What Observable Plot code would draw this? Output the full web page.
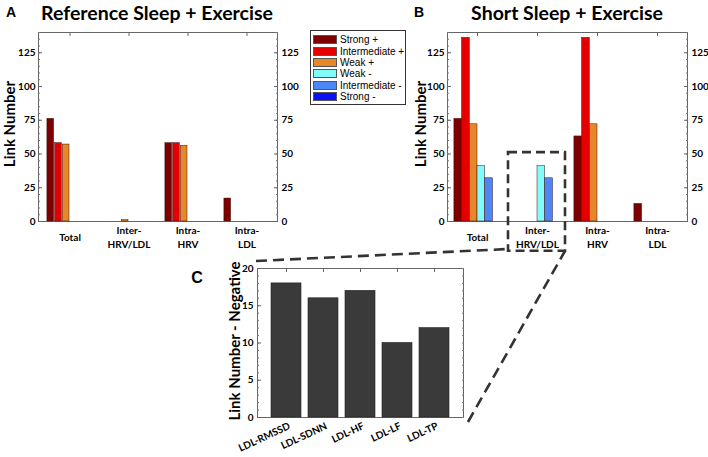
<!DOCTYPE html>
<html><head><meta charset="utf-8">
<script src="https://cdn.jsdelivr.net/npm/d3@7"></script>
<script src="https://cdn.jsdelivr.net/npm/@observablehq/plot@0.6"></script>
<style>
body{margin:0;background:#fff;}
#wrap{position:relative;width:708px;height:457px;overflow:hidden;font-family:Lato,"Open Sans",sans-serif;}
.pl{position:absolute;}
.title{position:absolute;font-weight:bold;font-size:19.5px;white-space:nowrap;transform:translate(-50%,-50%);color:#000;}
.tag{position:absolute;font-weight:bold;font-size:14px;font-family:"Liberation Sans",Arial,sans-serif;transform:translate(-50%,-50%);}
.ytitle{position:absolute;font-weight:bold;font-size:15px;white-space:nowrap;font-family:Lato,sans-serif;transform:translate(-50%,-50%) rotate(-90deg);}
#legend{position:absolute;left:310px;top:30px;width:96px;height:75px;border:1px solid #333;background:#fff;box-sizing:border-box;padding:3px 0 0 2px;font-family:"Liberation Sans",Arial,sans-serif;font-size:10px;}
#legend .row{display:flex;align-items:center;height:11.4px;white-space:nowrap;}
#legend .sw{width:24px;height:9px;border:1px solid #555;box-sizing:border-box;margin-right:3px;flex:none;}
</style></head>
<body>
<div id="wrap">
  <div class="title" style="left:157px;top:12px">Reference Sleep + Exercise</div>
  <div class="title" style="left:567px;top:12px">Short Sleep + Exercise</div>
  <div class="tag" style="left:11px;top:12px">A</div>
  <div class="tag" style="left:419px;top:12px">B</div>
  <div class="tag" style="left:197px;top:278px;font-size:16px">C</div>
  <div class="ytitle" style="left:9px;top:124px">Link Number</div>
  <div class="ytitle" style="left:420px;top:124px">Link Number</div>
  <div class="ytitle" style="left:234px;top:341px">Link Number - Negative</div>
  <div id="legend"></div>
</div>
<script>
// ---------- data ----------
const groups = ["Total", "Inter-\nHRV/LDL", "Intra-\nHRV", "Intra-\nLDL"];
const series = ["Strong +", "Intermediate +", "Weak +", "Weak -", "Intermediate -", "Strong -"];
const colors = ["#7d0000", "#e40000", "#e8872a", "#84fbfb", "#4d86f6", "#0a10f5"];
// values per series, in the order of groups
const refStrongPos = [76, 0, 58, 17];
const refInterPos  = [58, 0, 58, 0];
const refWeakPos   = [57, 1, 56, 0];
const refWeakNeg   = [0, 0, 0, 0];
const refInterNeg  = [0, 0, 0, 0];
const refStrongNeg = [0, 0, 0, 0];
const shortStrongPos = [76, 0, 63, 13];
const shortInterPos  = [136, 0, 136, 0];
const shortWeakPos   = [72, 0, 72, 0];
const shortWeakNeg   = [41, 41, 0, 0];
const shortInterNeg  = [32, 32, 0, 0];
const shortStrongNeg = [0, 0, 0, 0];
const yTicks = [0, 25, 50, 75, 100, 125];
const negLinks = ["LDL-RMSSD", "LDL-SDNN", "LDL-HF", "LDL-LF", "LDL-TP"];
const negValues = [18, 16, 17, 10, 12];
const negTicks = [0, 5, 10, 15, 20];

const refSets = [refStrongPos, refInterPos, refWeakPos, refWeakNeg, refInterNeg, refStrongNeg];
const shortSets = [shortStrongPos, shortInterPos, shortWeakPos, shortWeakNeg, shortInterNeg, shortStrongNeg];

function rows(sets) {
  const out = [];
  sets.forEach((vals, si) => vals.forEach((v, gi) => {
    if (v > 0) out.push({group: groups[gi], series: series[si], value: v});
  }));
  return out;
}

const tickFont = 'Lato, "Open Sans", sans-serif';
const fs = 10;
const bw = 7.7;          // bar width
const band = 60;         // group band width
const noText = () => "";

function groupedChart(data, opts) {
  const inset = (band - bw) / 2;
  const marks = [
    Plot.frame({stroke: "#666", strokeWidth: 1}),
    // minor & major inward ticks
    Plot.axisY(d3.range(0, 141, 5), {anchor: "left", label: null, tickSize: -2, tickFormat: noText, stroke: "#777"}),
    Plot.axisY(d3.range(0, 141, 5), {anchor: "right", label: null, tickSize: -2, tickFormat: noText, stroke: "#777"}),
    Plot.axisY(yTicks, {anchor: "left", label: null, tickSize: -4, tickFormat: noText, stroke: "#666"}),
    Plot.axisY(yTicks, {anchor: "right", label: null, tickSize: -4, tickFormat: noText, stroke: "#666"}),
    Plot.axisX({anchor: "top", label: null, tickSize: -3, tickFormat: noText, stroke: "#666"}),
    Plot.axisY(yTicks, {anchor: "left", label: null, tickSize: 0, tickPadding: 3, fontWeight: "bold", fontFamily: tickFont, fontSize: fs}),
    Plot.axisY(yTicks, {anchor: "right", label: null, tickSize: 0, tickPadding: 4, fontWeight: "bold", fontFamily: tickFont, fontSize: fs}),
    Plot.axisX({anchor: "bottom", label: null, tickSize: 0, tickPadding: 15, lineAnchor: "middle", lineHeight: 1.4, fontWeight: "bold", fontFamily: tickFont, fontSize: fs}),
    ...series.map((s, i) => Plot.barY(data.filter(d => d.series === s), {
      x: "group", y: "value", fill: colors[i], stroke: "#3b1010", strokeWidth: 0.5,
      insetLeft: inset + (i - 2.5) * bw, insetRight: inset - (i - 2.5) * bw
    })),
    ...(opts.extra || [])
  ];
  return Plot.plot({
    width: opts.width, height: 252,
    marginLeft: opts.ml, marginRight: opts.mr, marginTop: 32, marginBottom: 31,
    x: {domain: groups, padding: 0, axis: null},
    y: {domain: [0, 140], axis: null},
    style: {fontFamily: tickFont, fontSize: fs + "px", color: "#000", background: "transparent", overflow: "visible"},
    marks
  });
}

const wrap = document.getElementById("wrap");

const chartA = groupedChart(rows(refSets), {width: 300, ml: 38, mr: 23});
chartA.classList.add("pl"); chartA.style.left = "0px"; chartA.style.top = "0px";
wrap.appendChild(chartA);

const boxGroup = [{group: groups[1]}];
const chartB = groupedChart(rows(shortSets), {width: 318, ml: 57, mr: 21, extra: [
  Plot.barY(boxGroup, {x: "group", y1: () => -22, y2: () => 51, fill: "none", stroke: "#333", strokeWidth: 2.6, strokeDasharray: "9,5", insetLeft: 1, insetRight: 2})
]});
chartB.classList.add("pl"); chartB.style.left = "390px"; chartB.style.top = "0px";
wrap.appendChild(chartB);

// Panel C
const cData = negLinks.map((k, i) => ({link: k, value: negValues[i]}));
const chartC = Plot.plot({
  width: 290, height: 207,
  marginLeft: 67, marginRight: 17, marginTop: 18, marginBottom: 40,
  x: {domain: negLinks, paddingInner: 0.2, paddingOuter: 0.36, axis: null},
  y: {domain: [0, 20], axis: null},
  style: {fontFamily: tickFont, fontSize: fs + "px", color: "#000", background: "transparent", overflow: "visible"},
  marks: [
    Plot.frame({stroke: "#666"}),
    Plot.axisY(d3.range(0, 20.1, 1), {anchor: "left", label: null, tickSize: -2, tickFormat: noText, stroke: "#777"}),
    Plot.axisY(d3.range(0, 20.1, 1), {anchor: "right", label: null, tickSize: -2, tickFormat: noText, stroke: "#777"}),
    Plot.axisY(negTicks, {anchor: "left", label: null, tickSize: -4, tickFormat: noText, stroke: "#666"}),
    Plot.axisX({anchor: "top", label: null, tickSize: -3, tickFormat: noText, stroke: "#666"}),
    Plot.axisY(negTicks, {anchor: "left", label: null, tickSize: 0, tickPadding: 4, fontWeight: "bold", fontFamily: tickFont, fontSize: fs}),
    Plot.axisX({anchor: "bottom", label: null, tickSize: 0, tickPadding: 8, tickRotate: -25, dx: 3, fontWeight: "bold", fontFamily: tickFont, fontSize: fs}),
    Plot.barY(cData, {x: "link", y: "value", fill: "#3a3a3a", stroke: "#222", strokeWidth: 0.6})
  ]
});
chartC.classList.add("pl"); chartC.style.left = "190px"; chartC.style.top = "250px";
wrap.appendChild(chartC);

// Legend
const legend = document.getElementById("legend");
series.forEach((s, i) => {
  const row = document.createElement("div");
  row.className = "row";
  row.innerHTML = `<span class="sw" style="background:${colors[i]}"></span><span>${s}</span>`;
  legend.appendChild(row);
});

// Connector lines (annotation linking panel B box to panel C)
const ns = "http://www.w3.org/2000/svg";
const ov = document.createElementNS(ns, "svg");
ov.setAttribute("width", 708); ov.setAttribute("height", 457);
ov.setAttribute("class", "pl"); ov.style.left = "0px"; ov.style.top = "0px"; ov.style.pointerEvents = "none";
[[256, 261, 508, 249], [468, 422, 565, 251]].forEach(([x1, y1, x2, y2]) => {
  const l = document.createElementNS(ns, "line");
  l.setAttribute("x1", x1); l.setAttribute("y1", y1); l.setAttribute("x2", x2); l.setAttribute("y2", y2);
  l.setAttribute("stroke", "#333"); l.setAttribute("stroke-width", 2.6); l.setAttribute("stroke-dasharray", "11,6");
  ov.appendChild(l);
});
wrap.appendChild(ov);
</script>
</body></html>
